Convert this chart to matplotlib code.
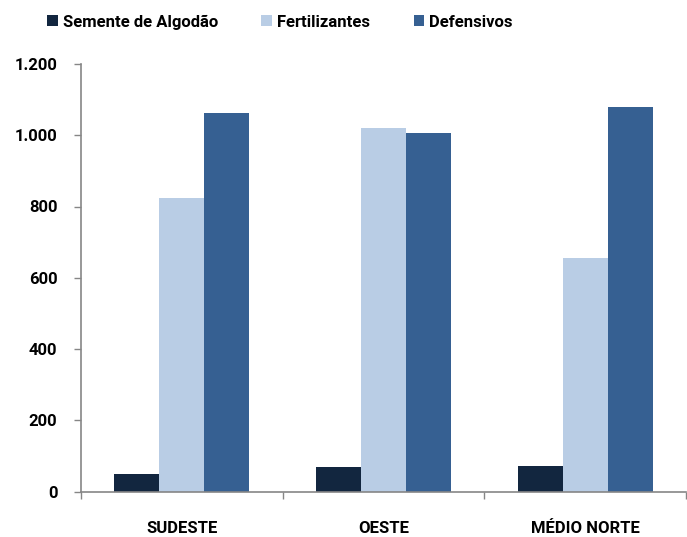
import numpy as np
import matplotlib.pyplot as plt
from matplotlib.ticker import FuncFormatter

plt.rcParams['font.family'] = ['Roboto', 'DejaVu Sans']
fontsize = 12

regions = ['SUDESTE', 'OESTE', 'MÉDIO NORTE']
semente = [49, 68, 72]
fertilizantes = [825, 1021, 656]
defensivos = [1062, 1007, 1079]

series = ['Semente de Algodão', 'Fertilizantes', 'Defensivos']
colors = ['#12263f', '#b9cde5', '#366092']

fig = plt.figure(figsize=(6.87, 5.37), dpi=100)
ax = fig.add_axes([81/687, 1-491.5/537, 605/687, (491.5-64)/537])

xpos = np.arange(len(regions))
width = 0.223
for i, (vals, name, c) in enumerate(zip([semente, fertilizantes, defensivos], series, colors)):
    ax.bar(xpos + (i-1)*width, vals, width, color=c, label=name)

ax.set_xlim(-0.5, 2.5)
ax.set_ylim(0, 1200)
ax.set_yticks(np.arange(0, 1201, 200))
ax.yaxis.set_major_formatter(FuncFormatter(lambda v, p: f"{int(v):,}".replace(',', '.')))
ax.set_xticks(xpos)
ax.set_xticklabels(regions)
ax.set_xticks([-0.5, 0.5, 1.5, 2.5], minor=True)
ax.tick_params(axis='x', which='major', length=0, pad=21)
ax.tick_params(axis='x', which='minor', length=5, direction='out', color='#868686', width=1)
ax.tick_params(axis='y', length=5, direction='out', color='#868686', width=1, pad=12)
for lab in ax.get_xticklabels() + ax.get_yticklabels():
    lab.set_fontweight('bold')
    lab.set_fontsize(fontsize)

for s in ['top', 'right']:
    ax.spines[s].set_visible(False)
for s in ['left', 'bottom']:
    ax.spines[s].set_color('#868686')
    ax.spines[s].set_linewidth(1.2)

leg = fig.legend(loc='center left', bbox_to_anchor=(47/687, 1-22/537), ncol=3,
                 frameon=False, handlelength=0.65, handleheight=0.65, handletextpad=0.3,
                 columnspacing=2.6, borderpad=0, borderaxespad=0,
                 prop={'weight': 'bold', 'size': fontsize})

plt.savefig('out.png', dpi=100)
